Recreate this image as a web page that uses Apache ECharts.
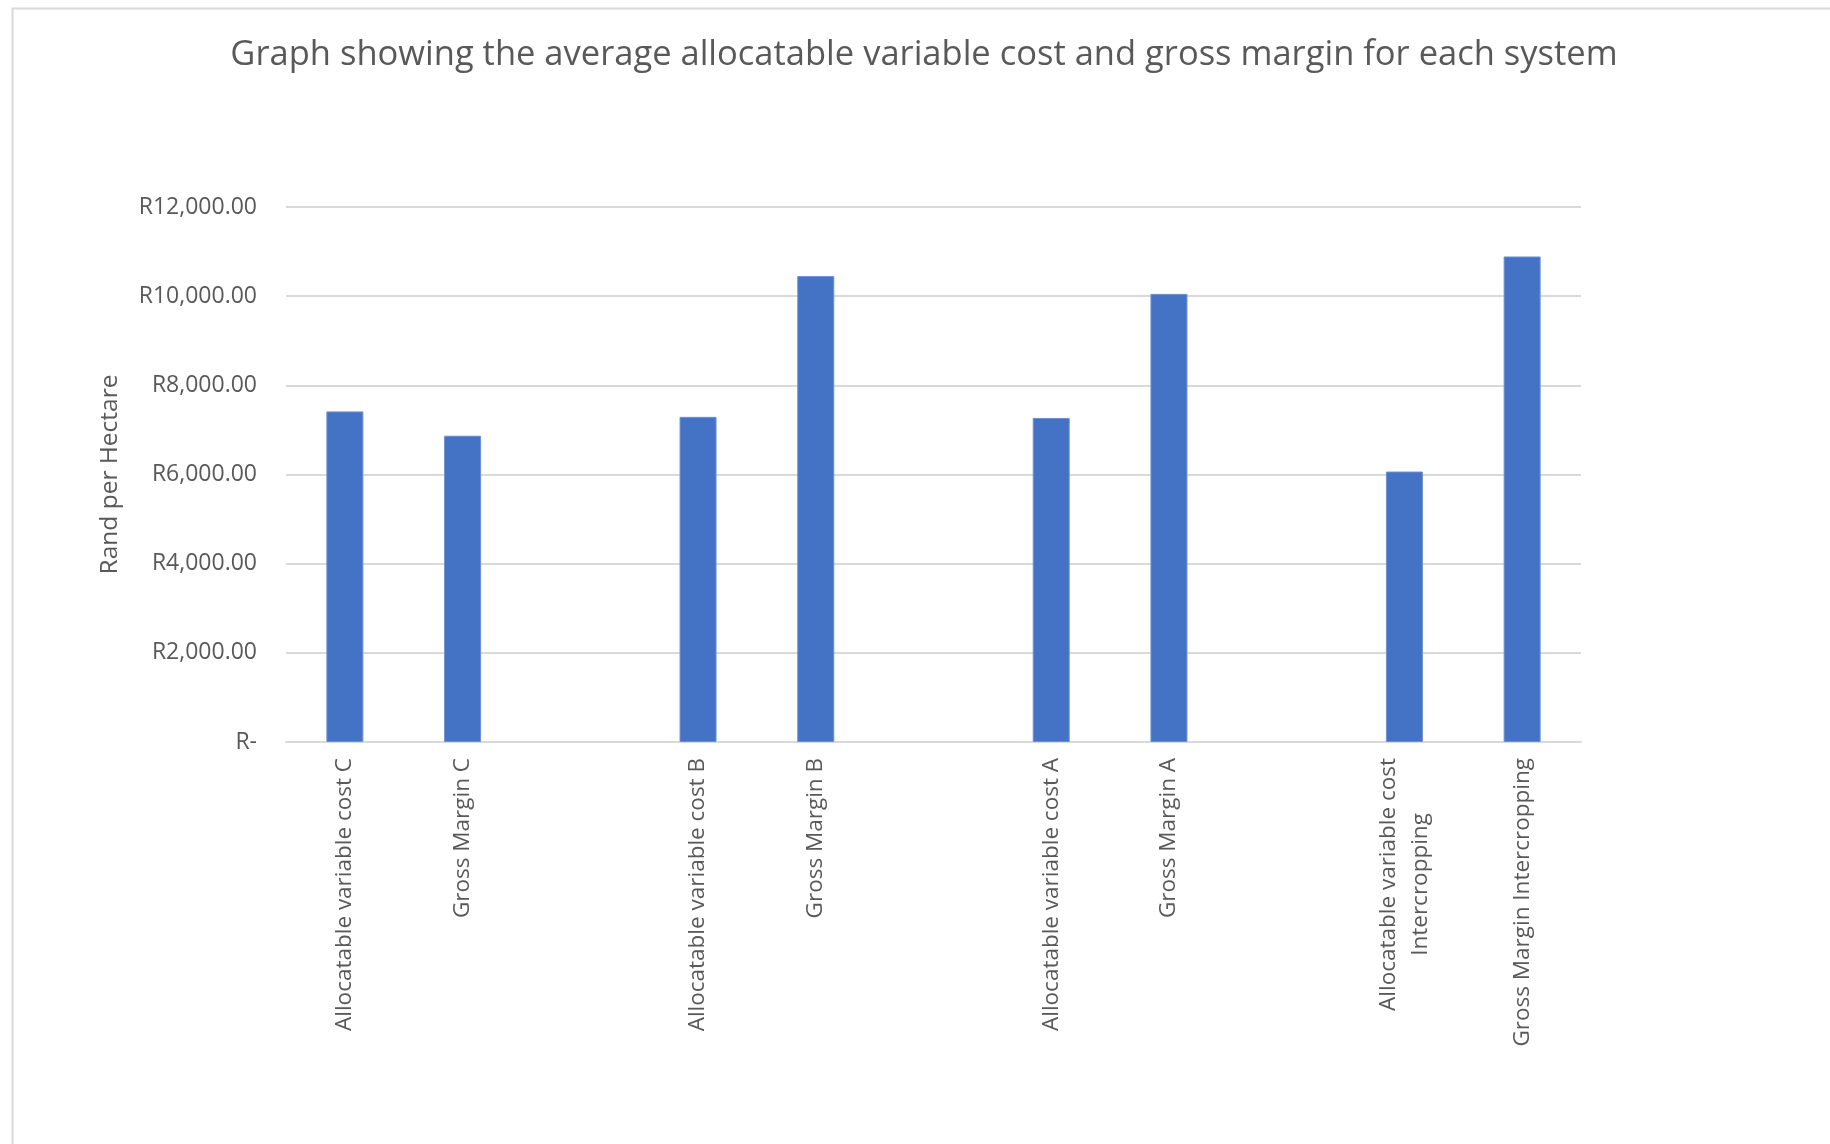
<!DOCTYPE html>
<html>
<head>
<meta charset="utf-8">
<script src="https://cdn.jsdelivr.net/npm/echarts@6/dist/echarts.min.js"></script>
<style>
html,body{margin:0;padding:0;background:#fff;}
#chart{width:1830px;height:1144px;}
</style>
</head>
<body>
<div id="chart"></div>
<script>
const titleText = 'Graph showing the average allocatable variable cost and gross margin for each system';
const yAxisName = 'Rand per Hectare';
const categories = [
  'Allocatable variable cost C', 'Gross Margin C', '',
  'Allocatable variable cost B', 'Gross Margin B', '',
  'Allocatable variable cost A', 'Gross Margin A', '',
  'Allocatable variable cost Intercropping', 'Gross Margin Intercropping'
];
const values = [
  7415, 6870, null,
  7293, 10450, null,
  7268, 10052, null,
  6066, 10890
];
const yTicks = [0, 2000, 4000, 6000, 8000, 10000, 12000];

const FONT = 'Open Sans';
const TXT = '#595959';
const GRID = '#D9D9D9';

function fmtRand(v) {
  if (v === 0) return 'R-';
  const s = v.toFixed(2).split('.');
  return 'R' + s[0].replace(/\B(?=(\d{3})+(?!\d))/g, ',') + '.' + s[1];
}
function wrapLabel(v) {
  if (v.length <= 30) return v;
  const cut = v.lastIndexOf(' ', 28);
  return '{c|' + v.slice(0, cut) + '}\n{c|' + v.slice(cut + 1) + '}';
}

const chart = echarts.init(document.getElementById('chart'));
chart.setOption({
  backgroundColor: '#fff',
  animation: false,
  title: {
    text: titleText,
    left: 919,
    textAlign: 'center',
    top: 33,
    textStyle: { fontFamily: FONT, fontSize: 34.5, fontWeight: 'normal', color: TXT }
  },
  graphic: [{
    type: 'rect', left: 10, top: 6, silent: true,
    shape: { width: 1900, height: 1200 },
    style: { fill: 'none', stroke: GRID, lineWidth: 2 }
  }],
  grid: { left: 286, right: 249, top: 207, bottom: 402, containLabel: false },
  xAxis: {
    type: 'category',
    data: categories,
    axisLine: { show: true, lineStyle: { color: GRID, width: 2 } },
    axisTick: { show: false },
    axisLabel: {
      interval: 0, rotate: 90, margin: 16,
      fontFamily: FONT, fontSize: 22.5, color: TXT,
      lineHeight: 32,
      formatter: wrapLabel,
      rich: { c: { fontFamily: FONT, fontSize: 22.5, color: TXT, align: 'center', lineHeight: 32 } }
    }
  },
  yAxis: {
    type: 'value',
    min: yTicks[0], max: yTicks[yTicks.length - 1], interval: 2000,
    name: yAxisName,
    nameLocation: 'middle',
    nameGap: 163,
    nameTextStyle: { fontFamily: FONT, fontSize: 24.5, color: TXT },
    axisLine: { show: false },
    axisTick: { show: false },
    splitLine: { lineStyle: { color: GRID, width: 2 } },
    axisLabel: { margin: 29, fontFamily: FONT, fontSize: 23, color: TXT, formatter: fmtRand }
  },
  series: [{
    type: 'bar',
    data: values,
    barWidth: 37,
    itemStyle: { color: '#4472C4', borderColor: '#6E90D0', borderWidth: 1 }
  }]
});
</script>
</body>
</html>
